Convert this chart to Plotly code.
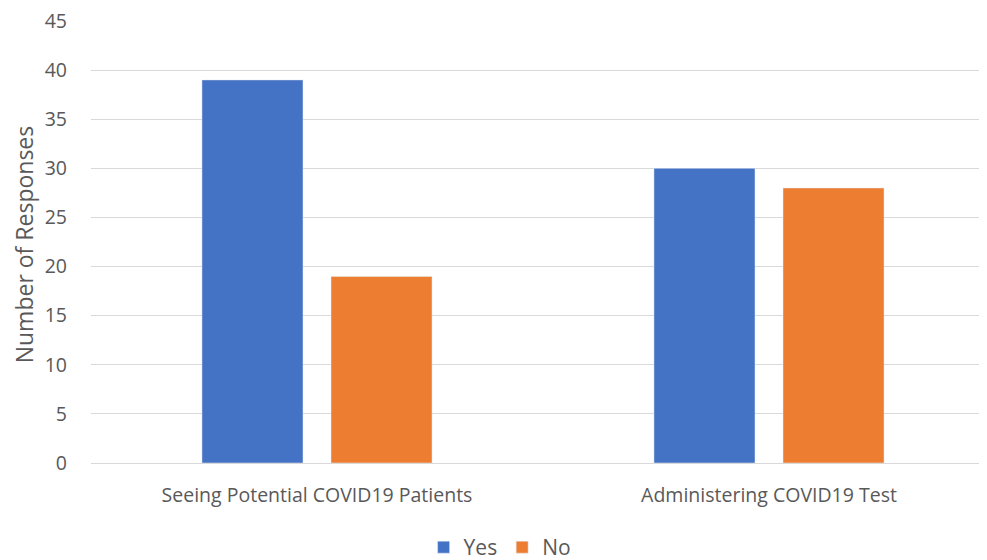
import plotly.graph_objects as go

categories = ["Seeing Potential COVID19 Patients", "Administering COVID19 Test"]
yes_values = [39, 30]
no_values = [19, 28]
y_ticks = [0, 5, 10, 15, 20, 25, 30, 35, 40, 45]
y_title = "Number of Responses"

fig = go.Figure()
fig.add_trace(go.Bar(name="Yes", x=categories, y=yes_values, marker_color="#4472C4"))
fig.add_trace(go.Bar(name="No", x=categories, y=no_values, marker_color="#ED7D31"))

font_family = "Open Sans, Liberation Sans, sans-serif"
grey = "#595959"
fig.update_layout(
    width=987, height=560,
    margin=dict(l=83, r=0, t=13, b=104),
    paper_bgcolor="white", plot_bgcolor="white",
    barmode="group", bargap=0.429, bargroupgap=0.217,
    font=dict(family=font_family, size=19, color=grey),
    legend=dict(orientation="h", x=0.452, xanchor="center", y=-0.19, yanchor="middle",
                font=dict(size=21, color=grey), traceorder="normal"),
    xaxis=dict(range=[-0.5, 1.5], showline=True, linecolor="#d9d9d9", linewidth=1,
               automargin=False, ticks="", ticklabelstandoff=15,
               tickfont=dict(size=19.5, color=grey)),
    yaxis=dict(range=[0, 45], tickvals=y_ticks, showgrid=True, gridcolor="#d9d9d9",
               gridwidth=1, zeroline=False, ticks="", ticklabelstandoff=23,
               ticklabeloverflow="allow",
               automargin=False, tickfont=dict(size=19.5, color=grey)),
)
fig.add_annotation(text=y_title, textangle=-90, xref="paper", yref="paper",
                   x=-0.0745, y=0.494, xanchor="center", yanchor="middle",
                   showarrow=False, borderpad=0, font=dict(size=23, color=grey))
fig.write_html("out.html")
